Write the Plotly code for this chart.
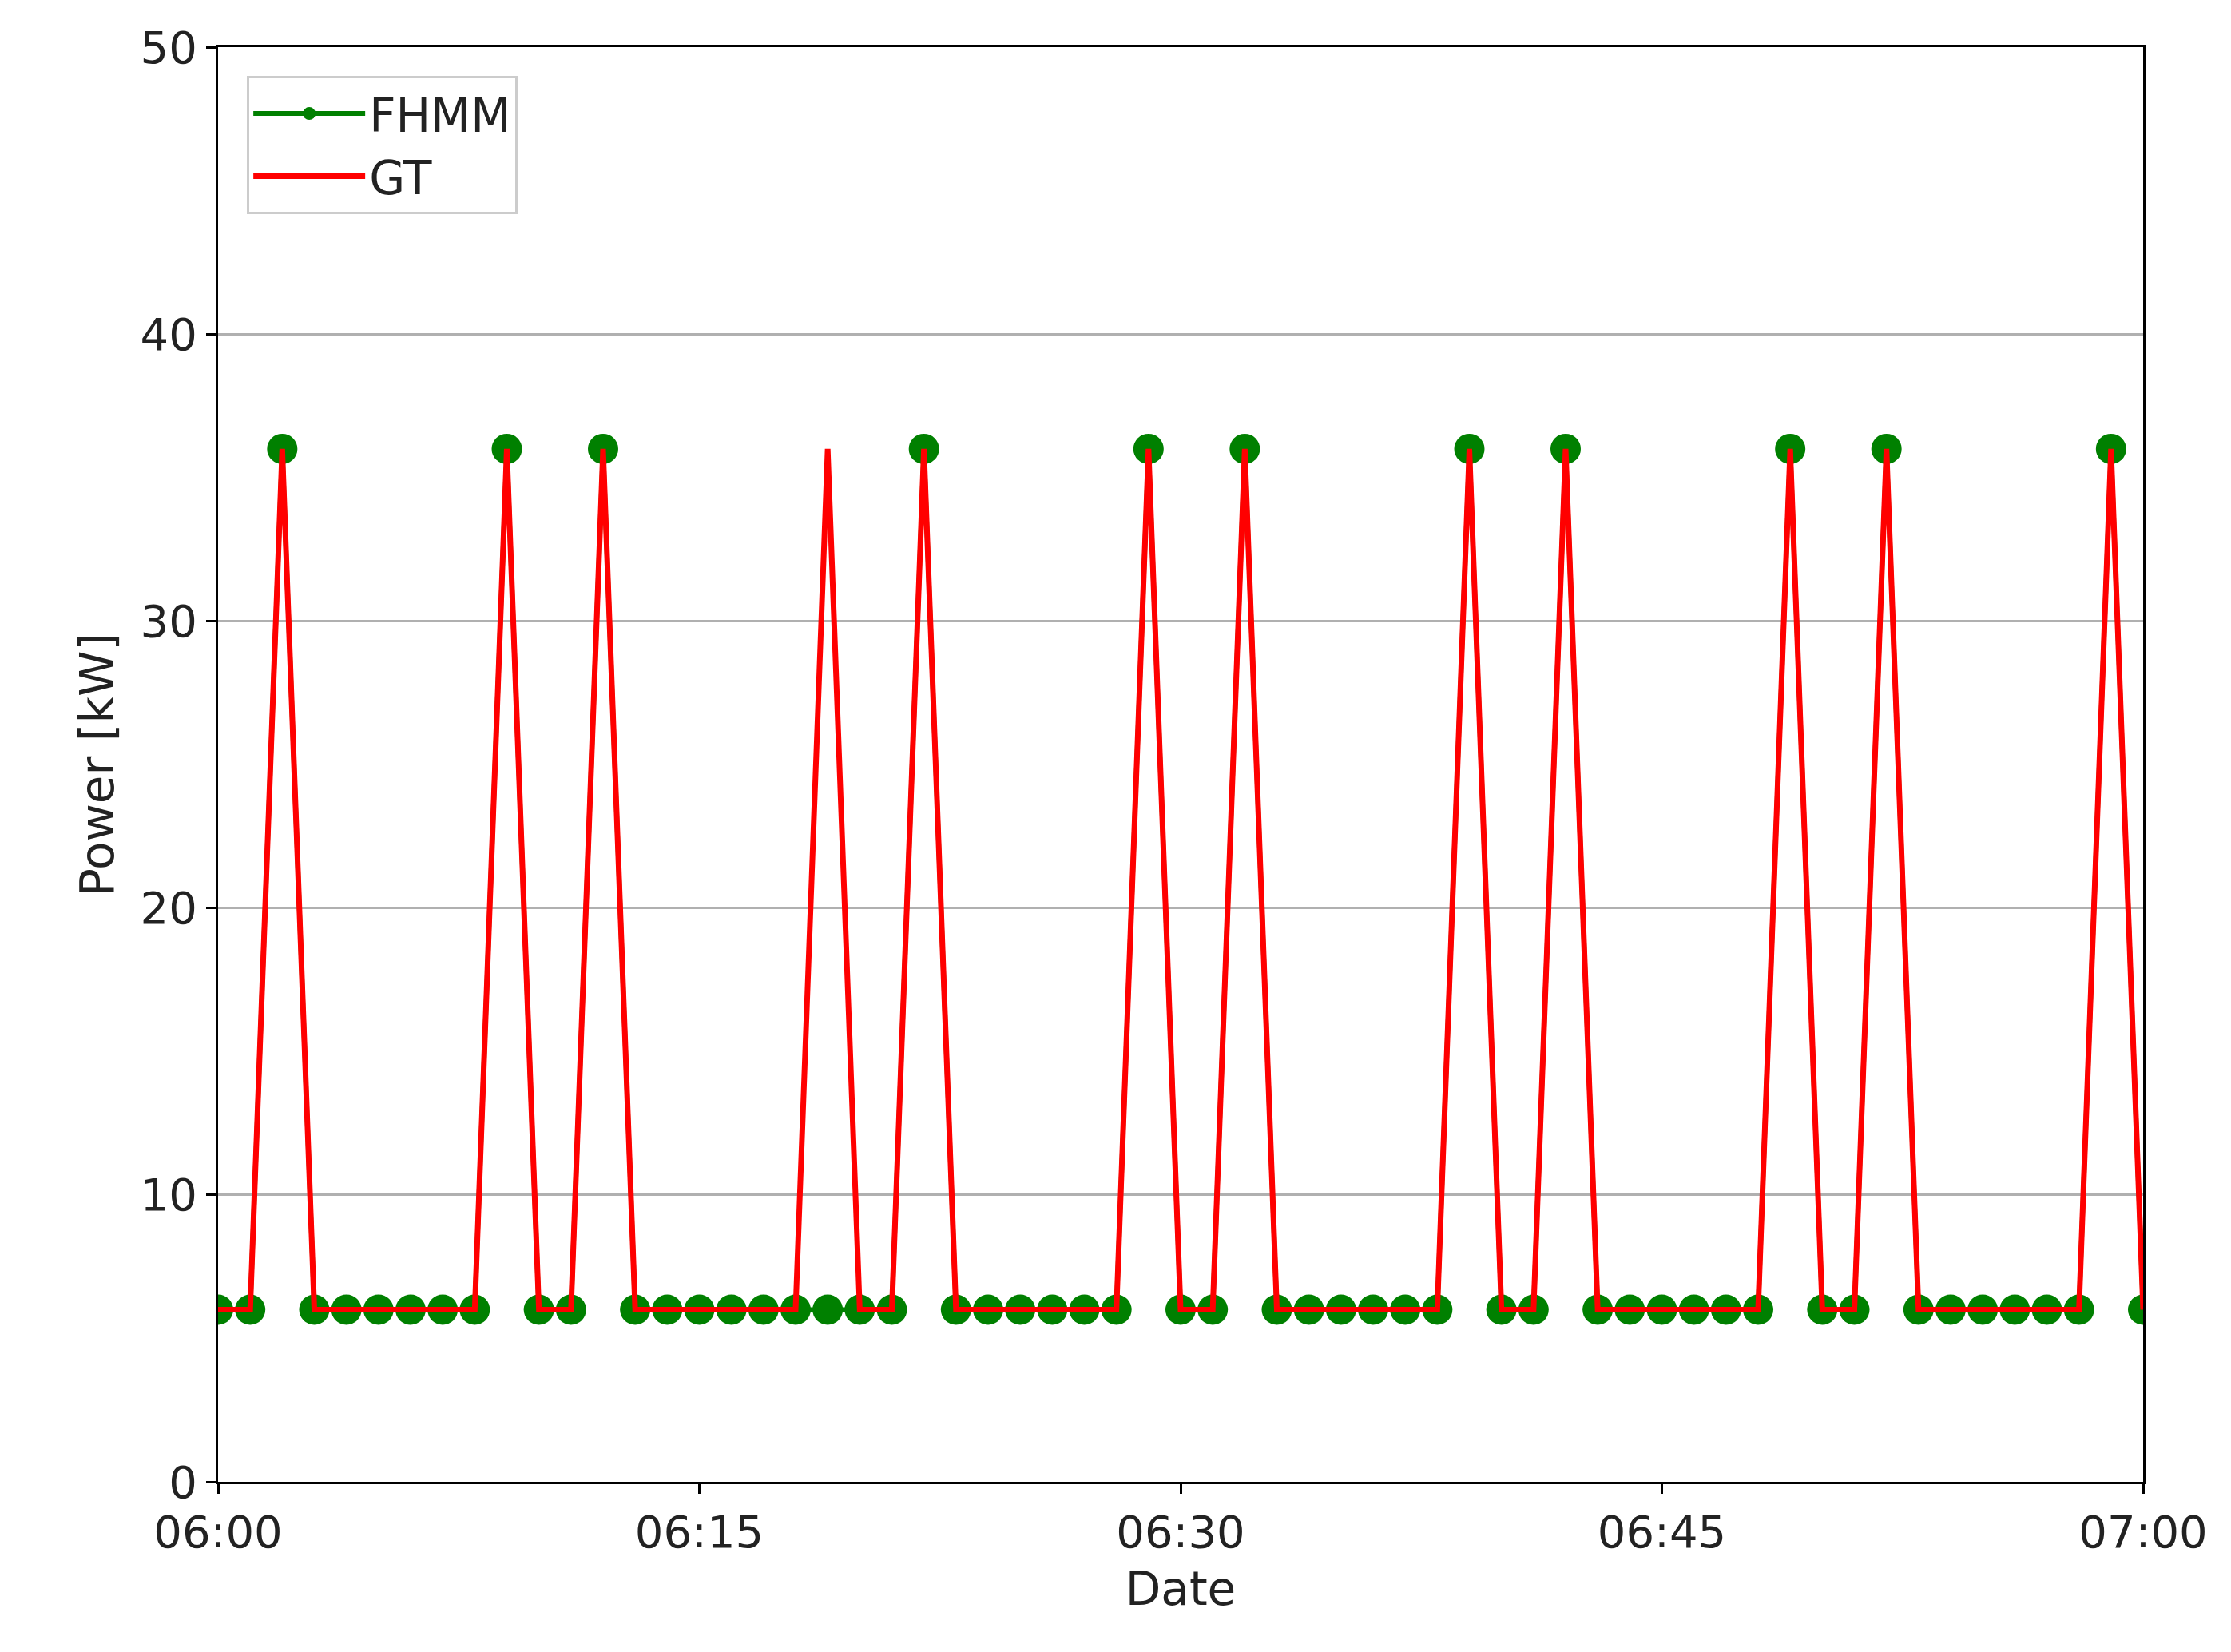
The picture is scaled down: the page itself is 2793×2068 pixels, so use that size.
import plotly.graph_objects as go
import pandas as pd

times = pd.date_range("2021-01-01 06:00", "2021-01-01 07:00", freq="1min")
fhmm_peaks = [2, 9, 12, 22, 29, 32, 39, 42, 49, 52, 59]
gt_peaks = [2, 9, 12, 19, 22, 29, 32, 39, 42, 49, 52, 59]
fhmm = [36 if i in fhmm_peaks else 6 for i in range(61)]
gt = [36 if i in gt_peaks else 6 for i in range(61)]
tick_vals = ["2021-01-01 06:00", "2021-01-01 06:15", "2021-01-01 06:30", "2021-01-01 06:45", "2021-01-01 07:00"]
tick_text = ["06:00", "06:15", "06:30", "06:45", "07:00"]

fig = go.Figure()
fig.add_trace(go.Scatter(x=times, y=fhmm, name="FHMM", mode="lines+markers",
                         line=dict(color="green", width=6), marker=dict(color="green", size=38)))
fig.add_trace(go.Scatter(x=times, y=gt, name="GT", mode="lines",
                         line=dict(color="red", width=7)))
axis_common = dict(showline=True, linecolor="black", linewidth=3, mirror=True,
                   ticks="outside", ticklen=12, tickwidth=3, tickcolor="black",
                   tickfont=dict(size=56, color="#222"), zeroline=False)
fig.update_xaxes(range=[times[0], times[-1]], tickvals=tick_vals, ticktext=tick_text,
                 showgrid=False, title=dict(text="Date", font=dict(size=58, color="#222"), standoff=20),
                 **axis_common)
fig.update_yaxes(range=[0, 50], dtick=10, showgrid=True, gridcolor="#b0b0b0", gridwidth=3,
                 title=dict(text="Power [kW]", font=dict(size=58, color="#222")), **axis_common)
fig.update_layout(width=2793, height=2068, plot_bgcolor="white", paper_bgcolor="white",
                  font=dict(family="DejaVu Sans"),
                  margin=dict(l=265, r=118, t=51, b=221),
                  legend=dict(x=0.015, y=0.98, xanchor="left", yanchor="top",
                              bgcolor="white", bordercolor="#ccc", borderwidth=3,
                              font=dict(size=58, color="#222"), itemwidth=140,
                              tracegroupgap=20))
fig.write_html("out.html")
